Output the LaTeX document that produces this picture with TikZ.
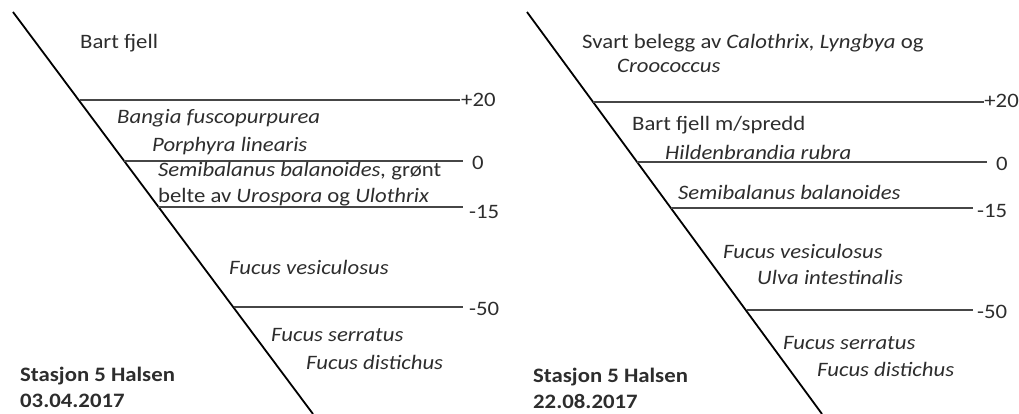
\documentclass[tikz,border=0pt]{standalone}
\usepackage{fontspec}
\setmainfont{Carlito}[FakeStretch=1.11]
\definecolor{ink}{RGB}{45,45,45}
\definecolor{lvl}{RGB}{70,70,70}
\begin{document}
\begin{tikzpicture}[x=1pt,y=-1pt,
  txt/.style={anchor=west,inner sep=0pt,text=ink,font=\fontsize{20.5}{24}\selectfont},
  it/.style={txt,font=\fontsize{20.5}{24}\selectfont\itshape},
  bf/.style={txt,font=\fontsize{20.5}{24}\selectfont\bfseries},
  lab/.style={txt,inner sep=1pt},
  shore/.style={draw=black,line width=1.8pt},
  level/.style={draw=lvl,line width=1.1pt}]
\useasboundingbox (0,0) rectangle (1019,414);
% ---------- left panel ----------
\coordinate (La) at (13,12);
\coordinate (Lb) at (313,414);
\draw[shore] (La) -- (Lb);
\coordinate (L20) at (80,100);
\coordinate (L0) at (124,161);
\coordinate (L15) at (158,207);
\coordinate (L50) at (234,307);
\node[lab] (Ll20) at (460,100) {+20};
\node[lab] (Ll0) at (471,163) {0};
\node[lab] (Ll15) at (468,212) {-15};
\node[lab] (Ll50) at (468,309) {-50};
\draw[level] (L20) -- (L20 -| Ll20.west);
\draw[level] (L0) -- (463,161);
\draw[level] (L15) -- (463,207);
\draw[level] (L50) -- (463,307);
\node[txt] (l1) at (80,43) {Bart fjell};
\node[it] (l2) at (117,118) {Bangia fuscopurpurea};
\node[it] (l3) at (152,146) {Porphyra linearis};
\node[txt] (l4) at (158,171) {\itshape Semibalanus balanoides,\upshape{} grønt};
\node[txt] (l5) at (158,197) {belte av \textit{Urospora} og \textit{Ulothrix}};
\node[it] (l6) at (229,267) {Fucus vesiculosus};
\node[it] (l7) at (271,335) {Fucus serratus};
\node[it] (l8) at (306,362) {Fucus distichus};
\node[bf] (l9) at (20,376) {Stasjon 5 Halsen};
\node[bf] (l10) at (20,401) {03.04.2017};
% ---------- right panel ----------
\coordinate (Ra) at (527,12);
\coordinate (Rb) at (822,414);
\draw[shore] (Ra) -- (Rb);
\coordinate (R20) at (593,102);
\coordinate (R0) at (637,162);
\coordinate (R15) at (671,208);
\coordinate (R50) at (747,310);
\node[lab,anchor=east,inner sep=0pt] (Rl20) at (1019,101) {+20};
\node[lab] (Rl0) at (995,164) {0};
\node[lab] (Rl15) at (976,211) {-15};
\node[lab] (Rl50) at (976,312) {-50};
\draw[level] (R20) -- (R20 -| Rl20.west);
\draw[level] (R0) -- (987,162);
\draw[level] (R15) -- (973,208);
\draw[level] (R50) -- (973,310);
\node[txt] (r1) at (582,43) {Svart belegg av \textit{Calothrix, Lyngbya} og};
\node[it] (r2) at (617,66) {Croococcus};
\node[txt] (r3) at (632,125) {Bart fjell m/spredd};
\node[it] (r4) at (665,152) {Hildenbrandia rubra};
\node[it] (r5) at (678,192) {Semibalanus balanoides};
\node[it] (r6) at (723,251) {Fucus vesiculosus};
\node[it] (r7) at (757,277) {Ulva intestinalis};
\node[it] (r8) at (783,343) {Fucus serratus};
\node[it] (r9) at (817,369) {Fucus distichus};
\node[bf] (r10) at (533,377) {Stasjon 5 Halsen};
\node[bf] (r11) at (533,401) {22.08.2017};
\end{tikzpicture}
\end{document}
